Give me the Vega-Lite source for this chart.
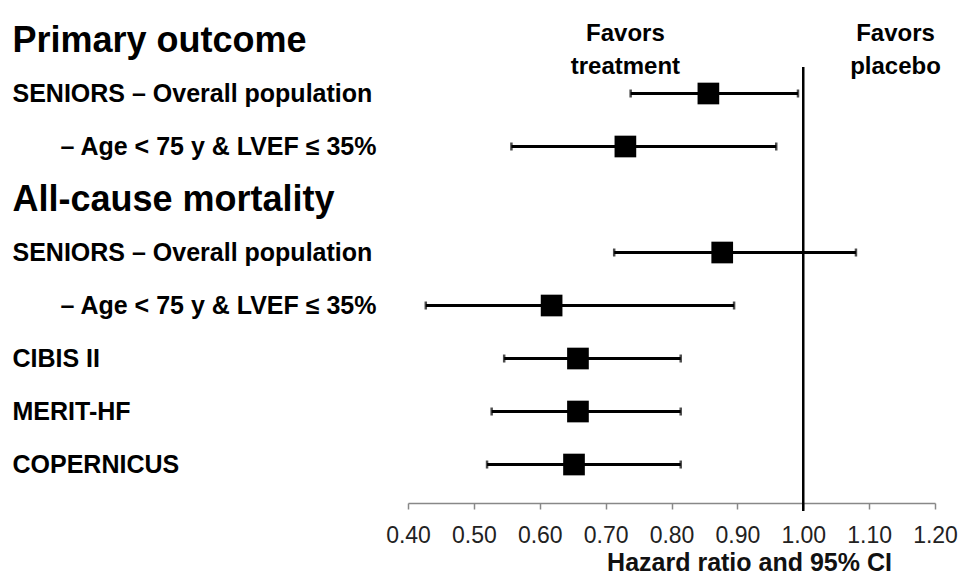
{
  "$schema": "https://vega.github.io/schema/vega-lite/v6.json",
  "width": 527,
  "height": 489,
  "padding": {"left": 12, "top": 14, "right": 3, "bottom": 0},
  "background": "white",
  "config": {"font": "Liberation Sans", "view": {"stroke": null}},
  "data": {
    "values": [
      {"row": "SENIORS – Overall population#p", "est": 0.856, "lo": 0.738, "hi": 0.992},
      {"row": "– Age < 75 y & LVEF ≤ 35%#p", "est": 0.730, "lo": 0.557, "hi": 0.959},
      {"row": "SENIORS – Overall population#m", "est": 0.877, "lo": 0.713, "hi": 1.080},
      {"row": "– Age < 75 y & LVEF ≤ 35%#m", "est": 0.618, "lo": 0.427, "hi": 0.895},
      {"row": "CIBIS II", "est": 0.658, "lo": 0.546, "hi": 0.814},
      {"row": "MERIT-HF", "est": 0.658, "lo": 0.527, "hi": 0.814},
      {"row": "COPERNICUS", "est": 0.652, "lo": 0.520, "hi": 0.814}
    ]
  },
  "encoding": {
    "y": {
      "field": "row",
      "type": "nominal",
      "scale": {
        "type": "band",
        "domain": [
          "Primary outcome#h",
          "SENIORS – Overall population#p",
          "– Age < 75 y & LVEF ≤ 35%#p",
          "All-cause mortality#h",
          "SENIORS – Overall population#m",
          "– Age < 75 y & LVEF ≤ 35%#m",
          "CIBIS II",
          "MERIT-HF",
          "COPERNICUS"
        ],
        "paddingInner": 0,
        "paddingOuter": 0.113,
        "align": 0
      },
      "axis": {
        "title": null,
        "ticks": false,
        "tickSize": 0,
        "domain": false,
        "labelAlign": "left",
        "labelBaseline": "middle",
        "labelLimit": 600,
        "labelOverlap": false,
        "labelFont": "Liberation Sans",
        "labelFontWeight": "bold",
        "labelColor": "#000000",
        "labelExpr": "split(datum.value, '#')[0]",
        "labelPadding": {"condition": {"test": "indexof(datum.value, '–') === 0", "value": 348}, "value": 396},
        "labelFontSize": {"condition": {"test": "indexof(datum.value, '#h') > 0", "value": 36}, "value": 25}
      }
    }
  },
  "layer": [
    {
      "mark": {"type": "rule", "color": "#000000", "strokeWidth": 3},
      "encoding": {
        "x": {
          "field": "lo",
          "type": "quantitative",
          "scale": {"domain": [0.4, 1.2], "nice": false, "zero": false},
          "axis": {
            "values": [0.4, 0.5, 0.6, 0.7, 0.8, 0.9, 1.0, 1.1, 1.2],
            "format": ".2f",
            "grid": false,
            "labelFlush": false,
            "labelOverlap": false,
            "labelFont": "Liberation Sans",
            "labelFontSize": 23,
            "labelColor": "#222222",
            "labelPadding": 15,
            "tickColor": "#888888",
            "tickSize": 6,
            "tickWidth": 1.5,
            "domainColor": "#888888",
            "domainWidth": 1.5,
            "title": "Hazard ratio and 95% CI",
            "titleFont": "Liberation Sans",
            "titleFontSize": 25,
            "titleFontWeight": "bold",
            "titleColor": "#111111",
            "titleX": 341,
            "titleAlign": "center",
            "titlePadding": 3
          }
        },
        "x2": {"field": "hi"}
      }
    },
    {
      "mark": {"type": "tick", "color": "#000000", "thickness": 2.5, "size": 8},
      "encoding": {"x": {"field": "lo", "type": "quantitative"}}
    },
    {
      "mark": {"type": "tick", "color": "#000000", "thickness": 2.5, "size": 8},
      "encoding": {"x": {"field": "hi", "type": "quantitative"}}
    },
    {
      "mark": {"type": "square", "size": 470, "filled": true, "color": "#000000", "opacity": 1},
      "encoding": {"x": {"field": "est", "type": "quantitative"}}
    },
    {
      "data": {"values": [{}]},
      "mark": {"type": "rule", "color": "#000000", "strokeWidth": 2.5, "y2Offset": 8},
      "encoding": {
        "x": {"datum": 1.0, "type": "quantitative"},
        "y": {"datum": "SENIORS – Overall population#p", "type": "nominal", "bandPosition": 0},
        "y2": {"value": "height"}
      }
    },
    {
      "data": {"values": [{}]},
      "mark": {"type": "text", "font": "Liberation Sans", "fontSize": 24, "fontWeight": "bold", "align": "center", "baseline": "alphabetic", "lineHeight": 33, "color": "#000000"},
      "encoding": {
        "x": {"datum": 0.73, "type": "quantitative"},
        "y": {"datum": "Primary outcome#h", "type": "nominal"},
        "text": {"value": ["Favors", "treatment"]}
      }
    },
    {
      "data": {"values": [{}]},
      "mark": {"type": "text", "font": "Liberation Sans", "fontSize": 24, "fontWeight": "bold", "align": "center", "baseline": "alphabetic", "lineHeight": 33, "color": "#000000"},
      "encoding": {
        "x": {"datum": 1.14, "type": "quantitative"},
        "y": {"datum": "Primary outcome#h", "type": "nominal"},
        "text": {"value": ["Favors", "placebo"]}
      }
    }
  ]
}
